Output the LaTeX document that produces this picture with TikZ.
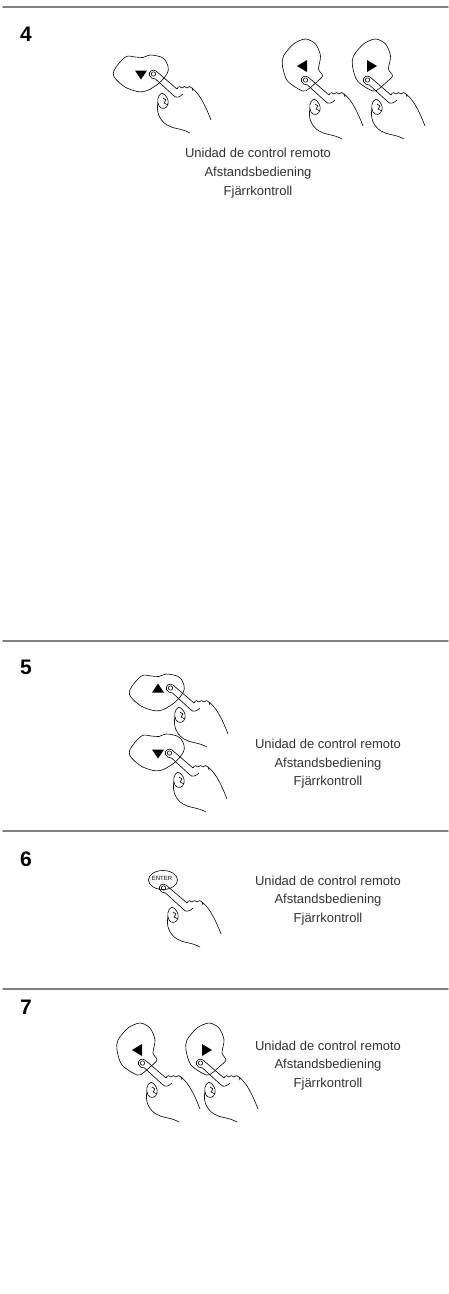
\documentclass[tikz,border=0pt]{standalone}
\usepackage{fontspec}
\setmainfont{Liberation Sans}
\begin{document}
\begin{tikzpicture}[x=1pt,y=-1pt,line join=round,line cap=round,
  rule/.style={draw=black!50,line width=1.6pt},
  stepnum/.style={font=\fontsize{21}{21}\selectfont\bfseries,anchor=north west,inner sep=0pt},
  caption/.style={font=\fontsize{13}{13}\selectfont,text=black!80,anchor=base,inner sep=0pt},
  outline/.style={draw=black,line width=0.6pt},
  % wide key outline (up/down keys)
  widepad/.pic={
    \draw[outline] plot[smooth cycle,tension=0.6] coordinates{
      (-27.7,-1.3) (-16,-16.7) (-6,-17) (2,-16.5) (9,-19) (20.7,-16.7)
      (25.7,-11.3) (27.3,-4) (24,2.7) (15.7,11) (2.3,17.7) (-11,15.3) (-21,9.3)};
  },
  % tall key outline (left/right keys)
  tallpad/.pic={
    \draw[outline] plot[smooth cycle,tension=0.5] coordinates{
      (3,-26) (13,-21) (18,-9) (16,4) (20,11) (13,18) (6,24) (0,26)
      (-15,16) (-20,1) (-19,-9) (-9,-21)};
  },
  downtri/.pic={\fill (-6,-4.5) -- (6,-4.5) -- (0,4.5) -- cycle;},
  uptri/.pic={\fill (-6,4.5) -- (6,4.5) -- (0,-4.5) -- cycle;},
  lefttri/.pic={\fill (5,-6) -- (5,6) -- (-5,0) -- cycle;},
  righttri/.pic={\fill (-5,-6) -- (-5,6) -- (5,0) -- cycle;},
  % pressing hand, fingertip at the origin
  hand/.pic={
    \draw[outline] (0.5,0) circle (2.2);
    % index finger
    \draw[outline] (24,15) -- (3,-3) .. controls (0,-5.5) and (-5,-2.5) .. (-3.5,1.5)
      .. controls (-2.5,4) and (0,5) .. (2.5,5) -- (20,21);
    % folded knuckles
    \draw[outline] (24,15) .. controls (25,12) and (28,12) .. (29,14)
      .. controls (30,12) and (33,12) .. (34,14)
      .. controls (35,12) and (38,12) .. (39,14) -- (40,17);
    % back of the hand
    \draw[outline] (39,14) .. controls (47,20) and (53,33) .. (58,46);
    \draw[outline] (20,21) .. controls (23,25) and (27,23) .. (30,20);
    % thumb
    \draw[outline] (9,19) .. controls (4.5,21) and (3.5,28) .. (6,32)
      .. controls (8.5,36) and (14,35) .. (15,30) .. controls (16,26) and (13.5,21) .. (9,19);
    \draw[outline] (10,24) -- (13,26) -- (11,29) -- (15,31);
    % palm and wrist
    \draw[outline] (5,29) .. controls (3,37) and (6,46) .. (14,51)
      .. controls (20,55) and (28,54) .. (37,59);
  }]
\useasboundingbox (0,0) rectangle (448,1294);
\fill[white] (0,0) rectangle (448,1294);

% ---- step 4 ----
\draw[rule] (3,7) -- (448,7);
\node[stepnum] (n4) at (20,27) {4};
\pic at (141,74) {widepad};
\pic at (141,75) {downtri};
\pic at (153,74) {hand};
\pic at (302.5,65) {tallpad};
\pic at (302,66) {lefttri};
\pic at (305,80) {hand};
\pic at (372.5,65) {tallpad};
\pic at (372,66) {righttri};
\pic at (367,80) {hand};
\node[caption] (c4a) at (258,157.5) {Unidad de control remoto};
\node[caption] (c4b) at (258,176.5) {Afstandsbediening};
\node[caption] (c4c) at (258,195.5) {Fjärrkontroll};

% ---- step 5 ----
\draw[rule] (3,641) -- (448,641);
\node[stepnum] (n5) at (20,660) {5};
\pic at (157,693) {widepad};
\pic at (158,688) {uptri};
\pic at (170,688) {hand};
\pic at (157,753) {widepad};
\pic at (158,754) {downtri};
\pic at (169,753) {hand};
\node[caption] (c5a) at (328,748) {Unidad de control remoto};
\node[caption] (c5b) at (328,767) {Afstandsbediening};
\node[caption] (c5c) at (328,785) {Fjärrkontroll};

% ---- step 6 ----
\draw[rule] (3,831) -- (448,831);
\node[stepnum] (n6) at (20,852) {6};
\draw[outline] (163,880) ellipse (14.5 and 9.5);
\node[font=\fontsize{6}{6}\selectfont,inner sep=0pt] (enter) at (162,878) {ENTER};
\pic at (163,888) {hand};
\node[caption] (c6a) at (328,885) {Unidad de control remoto};
\node[caption] (c6b) at (328,903) {Afstandsbediening};
\node[caption] (c6c) at (328,922) {Fjärrkontroll};

% ---- step 7 ----
\draw[rule] (3,989) -- (448,989);
\node[stepnum] (n7) at (20,1000) {7};
\pic at (137,1049) {tallpad};
\pic at (137,1050) {lefttri};
\pic at (142,1063) {hand};
\pic at (206,1049) {tallpad};
\pic at (207,1050) {righttri};
\pic at (200,1063) {hand};
\node[caption] (c7a) at (328,1050) {Unidad de control remoto};
\node[caption] (c7b) at (328,1068) {Afstandsbediening};
\node[caption] (c7c) at (328,1087) {Fjärrkontroll};
\end{tikzpicture}
\end{document}
